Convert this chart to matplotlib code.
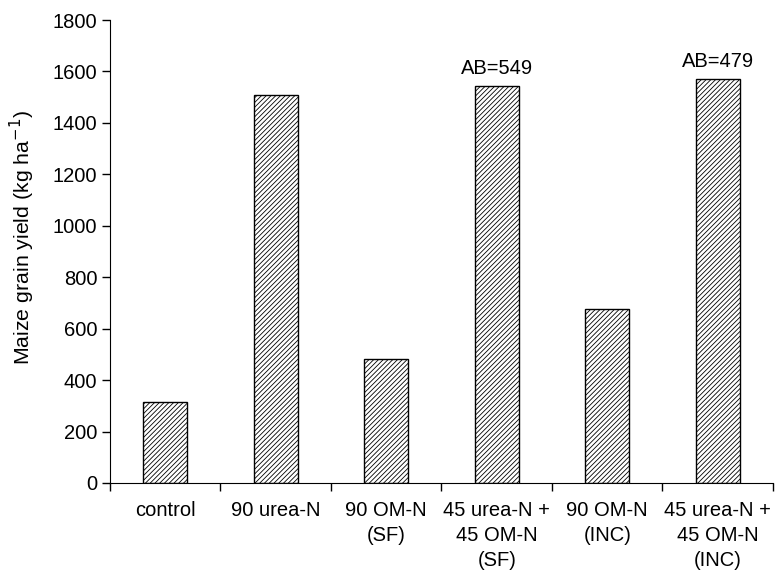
import numpy as np
import matplotlib
matplotlib.use("Agg")
from matplotlib import pyplot as plt

plt.rcParams['font.family'] = ['Liberation Sans', 'DejaVu Sans']
plt.rcParams['hatch.linewidth'] = 0.6

categories = ['control', '90 urea-N', '90 OM-N\n(SF)', '45 urea-N +\n45 OM-N\n(SF)',
              '90 OM-N\n(INC)', '45 urea-N +\n45 OM-N\n(INC)']
yields = [315, 1508, 481, 1545, 676, 1572]
annotations = {3: 'AB=549', 5: 'AB=479'}

fig = plt.figure(figsize=(7.79, 5.72), dpi=100)
ax = fig.add_axes([0.1412, 0.1556, 0.851, 0.8094])

x = np.arange(len(categories))
ax.bar(x, yields, width=0.4, color='white', edgecolor='black', linewidth=1.0, hatch='///////')

for i, txt in annotations.items():
    ax.text(x[i], yields[i] + 30, txt, ha='center', va='bottom', fontsize=14.5)

ax.set_xlim(-0.5, len(categories) - 0.5)
ax.set_ylim(0, 1800)
ax.set_yticks(np.arange(0, 1801, 200))
ax.tick_params(axis='y', labelsize=14.5, direction='out', length=6, width=1, pad=3)

# boundaries as major ticks, labels at centers as minor ticks
ax.set_xticks(np.arange(-0.5, len(categories), 1.0))
ax.set_xticklabels([])
ax.tick_params(axis='x', which='major', direction='out', length=6, width=1)
ax.set_xticks(x, minor=True)
ax.set_xticklabels(categories, minor=True, fontsize=14.5, linespacing=1.4)
ax.tick_params(axis='x', which='minor', length=0, pad=13)

ax.spines['top'].set_visible(False)
ax.spines['right'].set_visible(False)
ax.set_ylabel('Maize grain yield (kg ha$^{-1}$)', fontsize=15.3)
ax.yaxis.set_label_coords(-0.110, 0.53)

fig.savefig('out.png', dpi=100)
